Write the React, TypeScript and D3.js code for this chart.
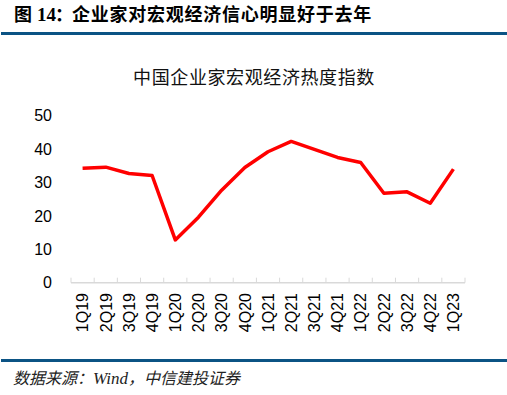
import React from "react";
import * as d3 from "d3";

const quarters = ["1Q19", "2Q19", "3Q19", "4Q19", "1Q20", "2Q20", "3Q20", "4Q20", "1Q21", "2Q21", "3Q21", "4Q21", "1Q22", "2Q22", "3Q22", "4Q22", "1Q23"];
const heatIndex = [34.3, 34.6, 32.7, 32.1, 12.8, 19.6, 27.7, 34.5, 39.2, 42.3, 39.9, 37.5, 36.0, 26.8, 27.2, 23.8, 34.0];
const yTicks = [0, 10, 20, 30, 40, 50];

const W = 507;
const H = 395;

const App = () => {
  const x = d3.scaleBand<string>().domain(quarters).range([71, 465]);
  const y = d3.scaleLinear().domain([0, 50]).range([282.7, 115.7]);

  const line = d3
    .line<number>()
    .x((_, i) => (x(quarters[i]) as number) + x.bandwidth() / 2)
    .y(d => y(d));

  const cjk = "'Noto Sans CJK SC', sans-serif";
  const latin = "'Liberation Sans', Arial, sans-serif";
  const serif = "'Liberation Serif', serif";

  return (
    <svg width={W} height={H} style={{ position: "absolute", left: 0, top: 0 }}>
      <rect width={W} height={H} fill="#fff" />
      <text x={14} y={21} fontSize={18} fontWeight="bold" fill="#000" fontFamily={cjk}>
        图
        <tspan x={37} fontFamily={serif} fontSize={19}>14</tspan>
        <tspan x={55}>{"\uFF1A"}</tspan>
        <tspan x={72} letterSpacing={0.75}>企业家对宏观经济信心明显好于去年</tspan>
      </text>
      <rect x={1} y={32} width={506} height={3} fill="#0b5384" />

      <text x={254} y={84} textAnchor="middle" fontSize={18} letterSpacing={0.6} fill="#111" fontFamily={cjk}>
        中国企业家宏观经济热度指数
      </text>

      {yTicks.map(t => (
        <text key={t} x={52} y={y(t)} dy="0.36em" textAnchor="end" fontSize={16} fill="#000" fontFamily={latin}>
          {t}
        </text>
      ))}

      <line x1={71} x2={465} y1={y(0)} y2={y(0)} stroke="#d9d9d9" strokeWidth={1.5} />
      {quarters.concat([""]).map((q, i) => {
        const xx = 71 + i * x.step();
        return <line key={i} x1={xx} x2={xx} y1={y(0) - 5} y2={y(0)} stroke="#d9d9d9" strokeWidth={1} />;
      })}
      {quarters.map(q => {
        const cx = (x(q) as number) + x.bandwidth() / 2;
        return (
          <text
            key={q}
            transform={`translate(${cx},293) rotate(-90)`}
            dy="0.36em"
            textAnchor="end"
            fontSize={16}
            fill="#000"
            fontFamily={latin}
          >
            {q}
          </text>
        );
      })}

      <path d={line(heatIndex) || ""} fill="none" stroke="#ff0000" strokeWidth={3.5} strokeLinejoin="round" />

      <rect x={1} y={359} width={506} height={3} fill="#0b5384" />
      <text x={13} y={384} fontSize={16} fill="#222" fontStyle="italic" fontFamily={cjk}>
        {"数据来源\uFF1A"}
        <tspan fontFamily={serif} fontSize={17}>Wind</tspan>
        {"\uFF0C中信建投证券"}
      </text>
    </svg>
  );
};

export default App;
